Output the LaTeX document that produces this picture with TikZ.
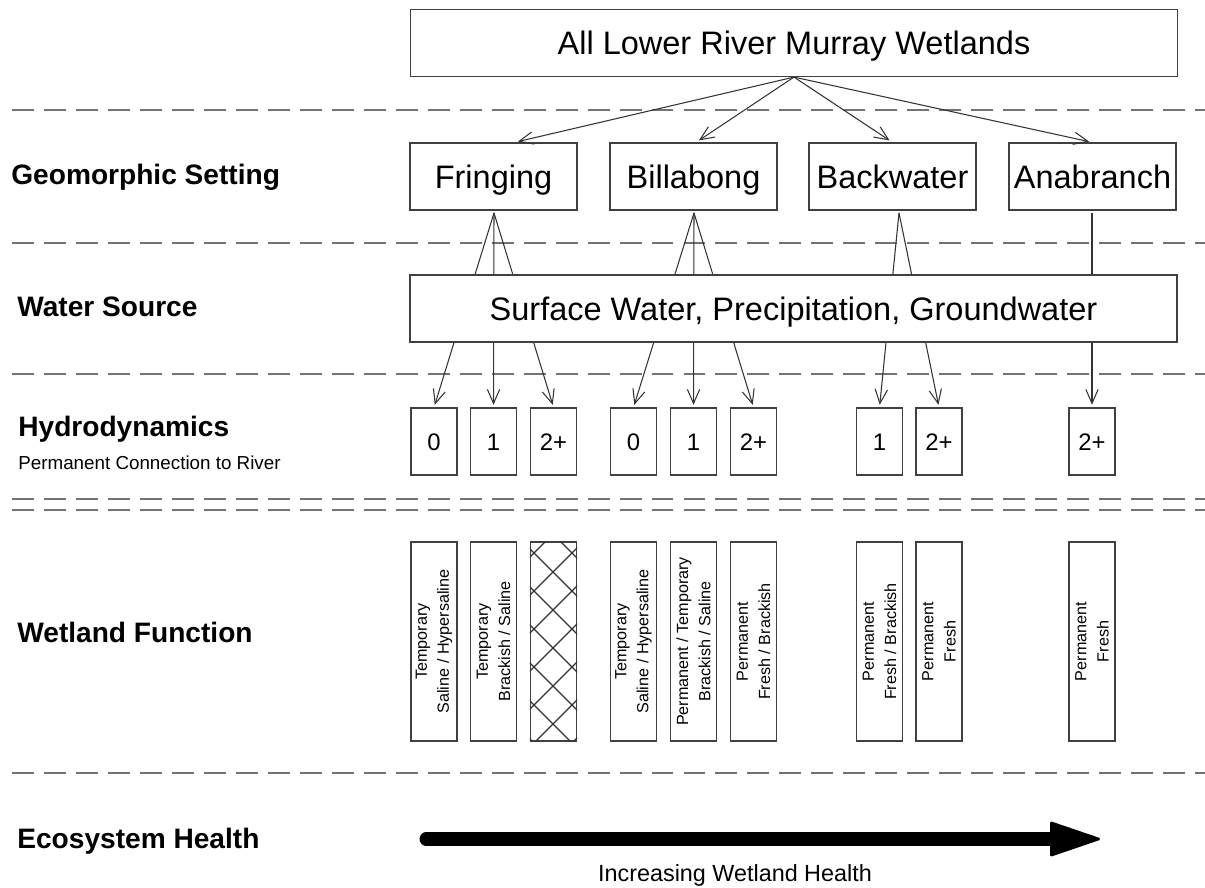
\documentclass[tikz,border=0pt]{standalone}
\usepackage{fontspec}
\setmainfont{Liberation Sans}
\usetikzlibrary{arrows.meta}

\tikzset{
  box/.style={draw=black!75, line width=0.7pt, inner sep=0pt},
  wide/.style={box, fill=white, minimum width=15.34cm, minimum height=1.34cm, text height=13.2pt, text depth=0pt, font=\fontsize{18.5}{22}\selectfont},
  geo/.style={box, minimum width=3.34cm, minimum height=1.34cm, text height=13.2pt, text depth=0pt, font=\fontsize{18.5}{22}\selectfont},
  hyd/.style={box, minimum width=0.92cm, minimum height=1.34cm, text height=9.7pt, text depth=-2pt, font=\fontsize{13.6}{16}\selectfont},
  fun/.style={box, rotate=90, minimum width=3.98cm, minimum height=0.92cm, align=center, font=\fontsize{9.2}{12.6}\selectfont},
  row/.style={anchor=base west, inner sep=0pt, font=\bfseries\fontsize{16}{19}\selectfont},
  sep/.style={draw=black!55, line width=1.1pt, dash pattern=on 12.5pt off 5.7pt},
  link/.style={draw=black!80, line width=0.6pt, -{Straight Barb[length=8pt,width=7pt]}, shorten >=2pt},
  fan/.style={link, shorten >=1.5pt},
  hatch/.style={draw=black!80, line width=0.7pt},
  health/.style={line width=7.4pt, line cap=round, -{Triangle[length=30pt,width=20pt,line width=1.5pt,round]}}
}

\begin{document}
\begin{tikzpicture}[x=0.02cm, y=-0.02cm]
        \useasboundingbox (0,0) rectangle (1205,888);
        % separators
        \foreach \y in {110,243,374,499,510,773}
          \draw[sep] (12,\y) -- (1205,\y);
        % row labels
        \node[row] (r1) at (11,185) {Geomorphic Setting};
        \node[row] (r2) at (17,317) {Water Source};
        \node[row] (r3) at (18,437) {Hydrodynamics};
        \node[anchor=base west, inner sep=0pt, font=\fontsize{10.7}{13}\selectfont] (r3s) at (18,470) {Permanent Connection to River};
        \node[row] (r4) at (17,643) {Wetland Function};
        \node[row] (r5) at (17,848) {Ecosystem Health};

        \node[wide] (0) at (794,43) {All Lower River Murray Wetlands};
        % 1st layer
        \node[geo] (11) at (493.5,176.5) {Fringing};
        \node[geo] (12) at (693.5,176.5) {Billabong};
        \node[geo] (13) at (892.5,176.5) {Backwater};
        \node[geo] (14) at (1092.5,176.5) {Anabranch};
        \coordinate (a1) at (494,213);
        \coordinate (a2) at (694,213);
        \coordinate (a3) at (899,213);
        \coordinate (a4) at (1092,213);
        % 3rd layer
        \node[hyd] (31) at (434,441.5) {0};
        \node[hyd] (32) at (493.5,441.5) {1};
        \node[hyd] (33) at (553.5,441.5) {2+};
        \node[hyd] (34) at (633.5,441.5) {0};
        \node[hyd] (35) at (693.5,441.5) {1};
        \node[hyd] (36) at (753.5,441.5) {2+};
        \node[hyd] (37) at (879.5,441.5) {1};
        \node[hyd] (38) at (939,441.5) {2+};
        \node[hyd] (39) at (1092,441.5) {2+};
        % 4th layer
        \node[fun] (41) at (434,641.5) {Temporary\\Saline / Hypersaline};
        \node[fun] (42) at (493.5,641.5) {Temporary\\Brackish / Saline};
        \node[fun] (43) at (553.5,641.5) {};
        \node[fun] (44) at (633.5,641.5) {Temporary\\Saline / Hypersaline};
        \node[fun] (45) at (693.5,641.5) {Permanent / Temporary\\Brackish / Saline};
        \node[fun] (46) at (753.5,641.5) {Permanent\\Fresh / Brackish};
        \node[fun] (47) at (879.5,641.5) {Permanent\\Fresh / Brackish};
        \node[fun] (48) at (939,641.5) {Permanent\\Fresh};
        \node[fun] (49) at (1092,641.5) {Permanent\\Fresh};
        \begin{scope}
          \clip (43.south west) rectangle (43.north east);
          \foreach \k in {-7,...,7} {
            \draw[hatch] (423,{480+38*\k}) -- (683,{740+38*\k});
            \draw[hatch] (423,{740+38*\k}) -- (683,{480+38*\k});
          }
        \end{scope}

        % lines through the water source box
        \draw[fan] (a1) -- (31.north);
        \draw[fan] (a1) -- (32.north);
        \draw[fan] (a1) -- (33.north);
        \draw[fan] (a2) -- (34.north);
        \draw[fan] (a2) -- (35.north);
        \draw[fan] (a2) -- (36.north);
        \draw[fan] (a3) -- (37.north);
        \draw[fan] (a3) -- (38.north);
        \draw[fan] (a4) -- (39.north);
        % 2nd layer
        \node[wide] (2) at (793.5,308.5) {Surface Water, Precipitation, Groundwater};

        \draw[link] (0.south) -- ([xshift=0.42cm]11.north);
        \draw[link] (0.south) -- ([xshift=0.05cm]12.north);
        \draw[link] (0.south) -- (13.north);
        \draw[link] (0.south) -- (14.north);

        % health arrow
        \coordinate (hs) at (426,839);
        \coordinate (he) at (1100,839);
        \draw[health] (hs) -- (he);
        \node[anchor=base, font=\fontsize{13.3}{16}\selectfont] (hl) at (735,882) {Increasing Wetland Health};
\end{tikzpicture}
\end{document}
